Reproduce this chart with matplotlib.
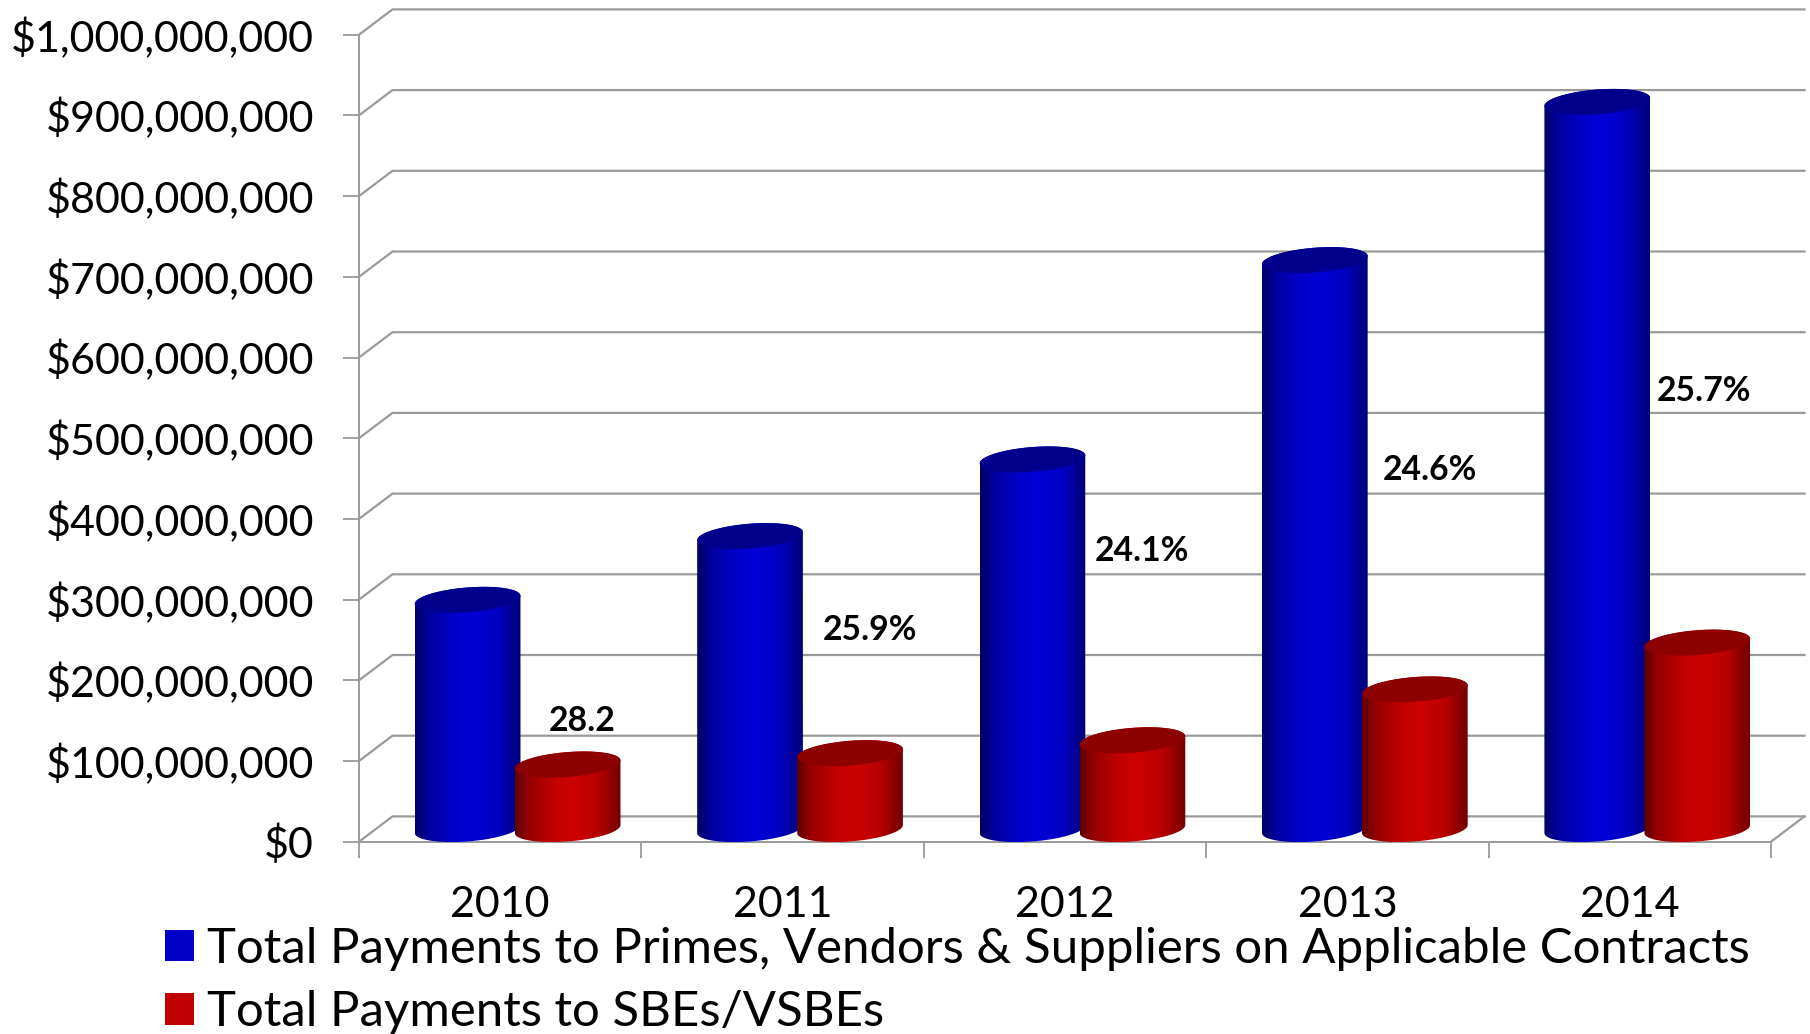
import numpy as np
import matplotlib
matplotlib.use("Agg")
import matplotlib.pyplot as plt
from matplotlib.patches import Patch, Polygon
from matplotlib.path import Path
from matplotlib.ticker import FuncFormatter

years = ["2010", "2011", "2012", "2013", "2014"]
primes = [284e6, 363e6, 458e6, 705e6, 901e6]
sbe = [80e6, 94e6, 110e6, 173e6, 231e6]
share_labels = ["28.2", "25.9%", "24.1%", "24.6%", "25.7%"]
series_names = ["Total Payments to Primes, Vendors & Suppliers on Applicable Contracts",
                "Total Payments to SBEs/VSBEs"]

W, H = 1810, 1034
L, R, T, B = 359, 1771, 34.7, 841.7
plt.rcParams["font.family"] = ["Lato", "DejaVu Sans"]
GRID = "#9a9a9a"

fig = plt.figure(figsize=(W / 100, H / 100), dpi=100, facecolor="white")
ax = fig.add_axes([L / W, 1 - B / H, (R - L) / W, (B - T) / H])
ax.set_xlim(0, 5)
ax.set_ylim(0, 1e9)
px_x = 5 / (R - L)
px_y = 1e9 / (B - T)

# 3D frame
DX, DY = 33.5 * px_x, 25.3 * px_y
for v in np.arange(0, 1.01e9, 1e8):
    ax.plot([0, DX, 5 + DX], [v, v + DY, v + DY], color=GRID, lw=1.6, clip_on=False, zorder=1)
ax.plot([5, 5 + DX], [0, DY], color=GRID, lw=1.6, clip_on=False, zorder=1)


def cylinder(xc, value, width, light, dark, top, z):
    a = width / 2
    b, c = 12.4 * px_y, 4 * px_y
    y0 = DY / 2
    y1 = y0 + value
    t_low = np.linspace(np.pi, 2 * np.pi, 80)
    t_up = np.linspace(0, np.pi, 80)
    xs = np.r_[xc + a * np.cos(t_low), xc + a * np.cos(t_up)]
    ys = np.r_[y0 + c * np.cos(t_low) + b * np.sin(t_low), y1 + c * np.cos(t_up) + b * np.sin(t_up)]
    s = np.linspace(0, 1, 200)
    f = np.interp(s, [0, 0.12, 0.38, 0.56, 0.78, 1], [0, 0.5, 0.92, 1, 0.82, 0.2])
    light, dark = np.array(light), np.array(dark)
    grad = (dark[None, :] + (light - dark)[None, :] * f[:, None])[None, :, :]
    im = ax.imshow(grad, extent=[xc - a, xc + a, 0, y1 + 2 * b], aspect="auto",
                   interpolation="bilinear", zorder=z, origin="lower")
    im.set_clip_box(None)
    im.set_clip_path(Path(np.c_[xs, ys]), transform=ax.transData)
    t = np.linspace(0, 2 * np.pi, 160)
    ax.add_patch(Polygon(np.c_[xc + a * np.cos(t), y1 + c * np.cos(t) + b * np.sin(t)],
                         closed=True, facecolor=top, edgecolor="none", zorder=z + 0.1))


x = np.arange(5) + 0.5 + DX / 2 + 0.7 * px_x
off = 50 * px_x
bw = 105.7 * px_x
z = 3
for xi, p, s in zip(x, primes, sbe):
    cylinder(xi - off, p, bw, (0, 0, 0.84), (0, 0, 0.38), "#00008c", z)
    cylinder(xi + off, s, bw, (0.80, 0, 0), (0.36, 0, 0), "#8c0000", z + 1)
    z += 2
ax.set_xlim(0, 5)
ax.set_ylim(0, 1e9)

# annotations
label_x = [582, 870, 1142, 1430, 1704]
label_y = [721, 630, 551, 470.5, 391]
for lx, ly, txt in zip(label_x, label_y, share_labels):
    ax.text((lx - L) * px_x, (B - ly) * px_y, txt, ha="center", va="center",
            fontsize=24.3, fontweight="bold", color="black", zorder=30, clip_on=False)

# axes
for sp in ["top", "right"]:
    ax.spines[sp].set_visible(False)
for sp in ["left", "bottom"]:
    ax.spines[sp].set_color(GRID)
    ax.spines[sp].set_linewidth(1.4)
    ax.spines[sp].set_zorder(2)
ax.patch.set_alpha(0)
ax.set_yticks(np.arange(0, 1.01e9, 1e8))
ax.yaxis.set_major_formatter(FuncFormatter(lambda v, _: f"${v:,.0f}"))
ax.tick_params(axis="y", length=11.5, width=1.3, color=GRID, labelsize=31, pad=21, labelcolor="black")
ax.set_xticks(np.arange(6))
ax.set_xticklabels([])
ax.set_xticks(np.arange(5) + 0.5, minor=True)
ax.set_xticklabels(years, minor=True)
ax.tick_params(axis="x", which="major", length=11.5, width=1.3, color=GRID)
ax.tick_params(axis="x", which="minor", length=0, labelsize=31, pad=32, labelcolor="black")

handles = [Patch(facecolor="#0000c8", edgecolor="none"), Patch(facecolor="#c00000", edgecolor="none")]
fig.legend(handles, series_names, loc="upper left", bbox_to_anchor=(164.5 / W, 1 - 927 / H),
           frameon=False, fontsize=35.4, handlelength=0.6, handleheight=0.61, handletextpad=0.27,
           labelspacing=0.39, borderaxespad=0, borderpad=0, labelcolor="black")

fig.savefig("out.png", dpi=100)
